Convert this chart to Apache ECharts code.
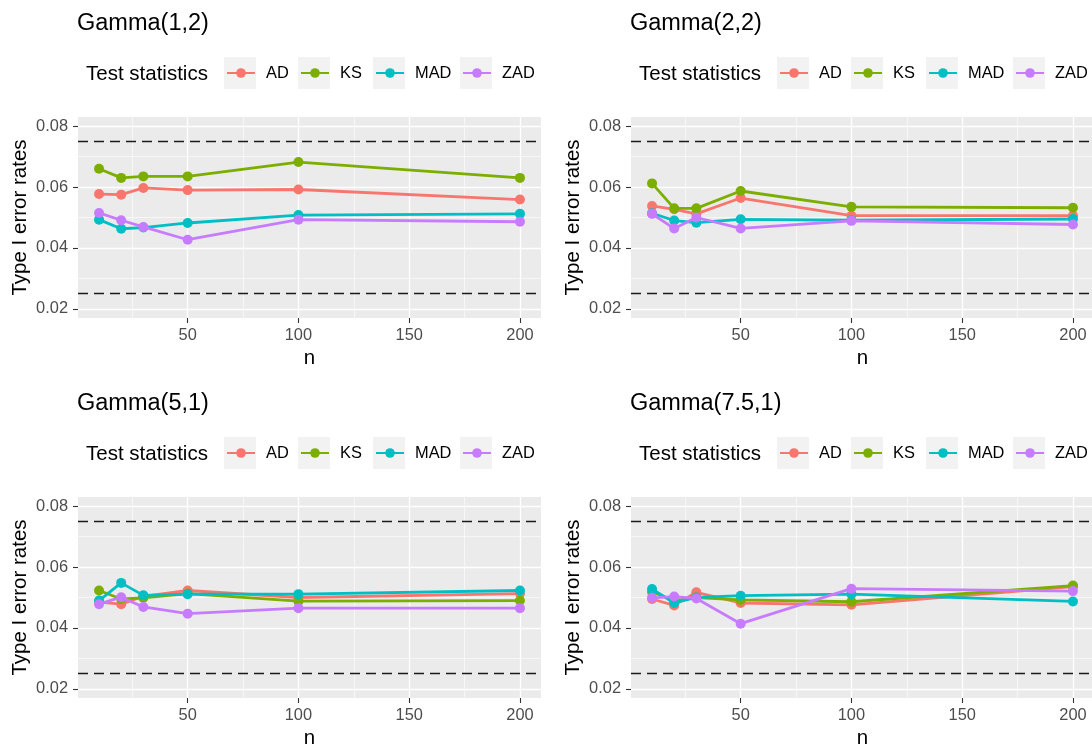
<!DOCTYPE html>
<html><head><meta charset="utf-8">
<script src="https://cdn.jsdelivr.net/npm/echarts@6/dist/echarts.min.js"></script>
<style>html,body{margin:0;padding:0;background:#fff}#c{width:1092px;height:747px}</style>
</head><body><div id="c"></div>
<script>
// ---------------- data ----------------
const nValues = [10, 20, 30, 50, 100, 200];
const testNames = ['AD', 'KS', 'MAD', 'ZAD'];
const panelTitles = ['Gamma(1,2)', 'Gamma(2,2)', 'Gamma(5,1)', 'Gamma(7.5,1)'];
const legendTitle = 'Test statistics';
const xTitle = 'n';
const yTitle = 'Type I error rates';
const xTicks = [50, 100, 150, 200];
const xMinorTicks = [25, 75, 125, 175];
const yTicks = [0.02, 0.04, 0.06, 0.08];
const yMinorTicks = [0.03, 0.05, 0.07];
const refLines = [0.025, 0.075];

const g12_AD  = [0.0577, 0.0575, 0.0597, 0.0590, 0.0592, 0.0559];
const g12_KS  = [0.0660, 0.0630, 0.0635, 0.0635, 0.0682, 0.0630];
const g12_MAD = [0.0493, 0.0463, 0.0467, 0.0482, 0.0508, 0.0512];
const g12_ZAD = [0.0515, 0.0491, 0.0469, 0.0427, 0.0493, 0.0486];

const g22_AD  = [0.0538, 0.0527, 0.0512, 0.0564, 0.0506, 0.0506];
const g22_KS  = [0.0612, 0.0530, 0.0530, 0.0587, 0.0535, 0.0532];
const g22_MAD = [0.0514, 0.0490, 0.0483, 0.0494, 0.0491, 0.0495];
const g22_ZAD = [0.0512, 0.0464, 0.0500, 0.0464, 0.0489, 0.0477];

const g51_AD  = [0.0485, 0.0478, 0.0504, 0.0523, 0.0500, 0.0513];
const g51_KS  = [0.0523, 0.0495, 0.0499, 0.0513, 0.0488, 0.0490];
const g51_MAD = [0.0490, 0.0548, 0.0507, 0.0511, 0.0511, 0.0523];
const g51_ZAD = [0.0478, 0.0501, 0.0469, 0.0447, 0.0465, 0.0465];

const g751_AD  = [0.0495, 0.0474, 0.0517, 0.0482, 0.0476, 0.0536];
const g751_KS  = [0.0518, 0.0490, 0.0500, 0.0492, 0.0486, 0.0539];
const g751_MAD = [0.0528, 0.0482, 0.0500, 0.0506, 0.0511, 0.0487];
const g751_ZAD = [0.0499, 0.0503, 0.0497, 0.0414, 0.0529, 0.0521];

const panelData = [
  { AD: g12_AD,  KS: g12_KS,  MAD: g12_MAD,  ZAD: g12_ZAD },
  { AD: g22_AD,  KS: g22_KS,  MAD: g22_MAD,  ZAD: g22_ZAD },
  { AD: g51_AD,  KS: g51_KS,  MAD: g51_MAD,  ZAD: g51_ZAD },
  { AD: g751_AD, KS: g751_KS, MAD: g751_MAD, ZAD: g751_ZAD }
];

// ---------------- style / layout ----------------
const FONT = '"Liberation Sans", Arial, sans-serif';
const colors = { AD: '#F8766D', KS: '#7CAE00', MAD: '#00BFC4', ZAD: '#C77CFF' };
const offsets = [{ dx: 0, dy: 0 }, { dx: 553, dy: 0 }, { dx: 0, dy: 380 }, { dx: 553, dy: 380 }];
const PL = 78, PT = 117, PW = 463, PH = 201;
const XMIN = 0.5, XMAX = 209.5, YMIN = 0.017, YMAX = 0.083;
const keyBoxLeft = [224, 298, 373, 460];
const KEY_TOP = 57, KEY_SIZE = 32, LEG_Y = 73;

const grid = [], xAxis = [], yAxis = [], series = [], legend = [], graphic = [];

offsets.forEach((o, i) => {
  grid.push({ left: PL + o.dx, top: PT + o.dy, width: PW, height: PH, show: true,
    backgroundColor: '#EBEBEB', borderWidth: 0, containLabel: false, outerBoundsMode: 'none' });
});
offsets.forEach((o, i) => {
  xAxis.push({
    type: 'value', gridIndex: i, min: XMIN, max: XMAX,
    axisLine: { show: false },
    axisTick: { show: true, length: 5, lineStyle: { color: '#333', width: 1.1 }, customValues: xTicks },
    axisLabel: { customValues: xTicks, color: '#4D4D4D', fontSize: 16.4, margin: 9, fontFamily: FONT },
    splitLine: { show: true, lineStyle: { color: '#FFFFFF', width: 1.3 } },
    name: xTitle, nameLocation: 'middle', nameGap: 30,
    nameTextStyle: { fontSize: 20.5, color: '#000', fontFamily: FONT }
  });
  yAxis.push({
    type: 'value', gridIndex: i, min: YMIN, max: YMAX,
    axisLine: { show: false },
    axisTick: { show: true, length: 5, lineStyle: { color: '#333', width: 1.1 }, customValues: yTicks },
    axisLabel: { customValues: yTicks, color: '#4D4D4D', fontSize: 16.4, margin: 10, fontFamily: FONT,
      formatter: v => v.toFixed(2) },
    splitLine: { show: true, lineStyle: { color: '#FFFFFF', width: 1.3 } },
    name: yTitle, nameLocation: 'middle', nameGap: 47,
    nameTextStyle: { fontSize: 20.5, color: '#000', fontFamily: FONT }
  });
});
offsets.forEach((o, i) => {
  xAxis.push({
    type: 'value', gridIndex: i, min: XMIN, max: XMAX, position: 'top',
    axisLine: { show: false }, axisTick: { show: false, customValues: xMinorTicks },
    axisLabel: { show: false, customValues: xMinorTicks },
    splitLine: { show: true, lineStyle: { color: '#FFFFFF', width: 0.6 } }
  });
  yAxis.push({
    type: 'value', gridIndex: i, min: YMIN, max: YMAX, position: 'right',
    axisLine: { show: false }, axisTick: { show: false, customValues: yMinorTicks },
    axisLabel: { show: false, customValues: yMinorTicks },
    splitLine: { show: true, lineStyle: { color: '#FFFFFF', width: 0.6 } }
  });
});

panelData.forEach((pd, i) => {
  testNames.forEach((t, k) => {
    const s = {
      type: 'line', name: t, xAxisIndex: i, yAxisIndex: i,
      data: nValues.map((n, j) => [n, pd[t][j]]),
      symbol: 'circle', symbolSize: 10, showSymbol: true,
      lineStyle: { width: 2.8, color: colors[t] },
      itemStyle: { color: colors[t] },
      emphasis: { disabled: true }, animation: false, z: 2 + k
    };
    if (k === 0) {
      s.markLine = {
        silent: true, symbol: ['none', 'none'], animation: false, precision: 6,
        label: { show: false },
        lineStyle: { color: '#1a1a1a', width: 1.3, type: [10, 6] },
        data: refLines.map(v => ({ yAxis: v }))
      };
    }
    series.push(s);
  });
});

offsets.forEach((o, i) => {
  graphic.push({ type: 'text', x: 77 + o.dx, y: 24 + o.dy, z: 10,
    style: { text: panelTitles[i], fontSize: 23.5, fontFamily: FONT, fill: '#000', verticalAlign: 'middle', align: 'left' } });
  graphic.push({ type: 'text', x: 86 + o.dx, y: LEG_Y + 1 + o.dy, z: 10,
    style: { text: legendTitle, fontSize: 20.5, fontFamily: FONT, fill: '#000', verticalAlign: 'middle', align: 'left' } });
  testNames.forEach((t, k) => {
    graphic.push({ type: 'rect', z: 0,
      shape: { x: keyBoxLeft[k] + o.dx, y: KEY_TOP + o.dy, width: KEY_SIZE, height: KEY_SIZE },
      style: { fill: '#F2F2F2' } });
    legend.push({
      show: true, data: [t], left: keyBoxLeft[k] + 2 + o.dx, top: LEG_Y - 8 + o.dy,
      itemWidth: 28, itemHeight: 12, padding: 0, selectedMode: false,
      textStyle: { fontSize: 16.4, color: '#000', fontFamily: FONT, padding: [0, 0, 0, 6] }
    });
  });
});

const chart = echarts.init(document.getElementById('c'), null, { renderer: 'canvas' });
chart.setOption({ animation: false, backgroundColor: '#fff', grid, xAxis, yAxis, series, legend, graphic });
</script></body></html>
